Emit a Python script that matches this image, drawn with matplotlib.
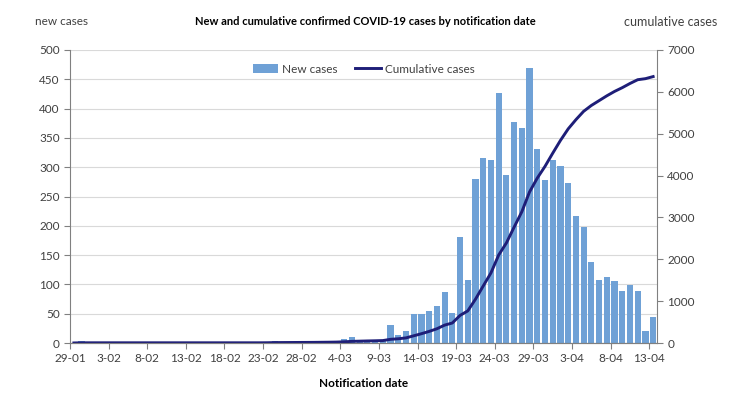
import numpy as np
import matplotlib
matplotlib.use("Agg")
import matplotlib.pyplot as plt

plt.rcParams['font.family'] = ['Lato', 'DejaVu Sans']

# day 0 = 29-01, day 75 = 13-04
tick_labels = ["29-01", "3-02", "8-02", "13-02", "18-02", "23-02", "28-02", "4-03",
               "9-03", "14-03", "19-03", "24-03", "29-03", "3-04", "8-04", "13-04"]

new_cases = [0, 4, 0, 0, 0, 0, 0, 0, 0, 0,
             0, 0, 0, 0, 0, 0, 0, 0, 0, 0,
             0, 0, 0, 0, 0, 1, 4, 1, 1, 1,
             1, 1, 2, 2, 3, 7, 10, 5, 5, 4,
             5, 30, 13, 21, 50, 50, 55, 63, 87, 51,
             181, 108, 280, 315, 312, 427, 287, 377, 367, 470,
             331, 279, 312, 302, 273, 217, 198, 138, 108, 112,
             105, 89, 99, 88, 20, 45]

cumulative = [1, 5, 5, 5, 5, 5, 5, 5, 5, 5,
              5, 5, 5, 5, 5, 5, 5, 5, 5, 5,
              5, 5, 5, 5, 5, 6, 10, 11, 12, 13,
              14, 15, 17, 19, 22, 29, 39, 44, 49, 53,
              58, 88, 101, 122, 172, 222, 277, 340, 427, 478,
              659, 767, 1047, 1362, 1674, 2101, 2390, 2768, 3136, 3610,
              3940, 4220, 4535, 4840, 5115, 5335, 5535, 5675, 5790, 5905,
              6010, 6100, 6200, 6290, 6315, 6365]

bar_color = "#6FA1D6"
line_color = "#1E1E78"
txt = "#404040"

fig = plt.figure(figsize=(7.5, 3.95), dpi=100)
ax = fig.add_axes([70/750, 1 - 343/395, 587/750, 293/395])
ax2 = ax.twinx()

days = np.arange(len(new_cases))
ax.bar(days + 0.5, new_cases, width=0.8, color=bar_color, label="New cases", zorder=2)
ax2.plot(days + 0.5, cumulative, color=line_color, lw=2.1, label="Cumulative cases")

ax.set_xlim(0, len(new_cases))
ax.set_ylim(0, 500)
ax2.set_ylim(0, 7000)
ax.set_xticks(np.arange(0, len(new_cases), 5))
ax.set_xticklabels(tick_labels)
ax.set_yticks(np.arange(0, 501, 50))
ax2.set_yticks(np.arange(0, 7001, 1000))

ax.yaxis.grid(True, color="#D9D9D9", lw=0.8, zorder=0)
ax.set_axisbelow(True)

for a in (ax, ax2):
    a.spines['top'].set_visible(False)
    for s in ('left', 'right', 'bottom'):
        a.spines[s].set_color("#808080")
    a.tick_params(colors="#808080", labelcolor=txt, labelsize=8.5, length=4)
ax.spines['right'].set_visible(False)
ax2.spines['left'].set_visible(False)

ax.set_xlabel("Notification date", fontsize=8.5, fontweight="bold", color="black", labelpad=10)
fig.text(0.487, 0.945, "New and cumulative confirmed COVID-19 cases by notification date",
         ha="center", va="center", fontsize=8, fontweight="bold", color="black")
fig.text(0.047, 0.945, "new cases", ha="left", va="center", fontsize=8.5, color=txt)
fig.text(0.957, 0.945, "cumulative cases", ha="right", va="center", fontsize=9, color=txt)

h1, l1 = ax.get_legend_handles_labels()
h2, l2 = ax2.get_legend_handles_labels()
ax2.legend(h1 + h2, l1 + l2, loc="upper center", bbox_to_anchor=(0.5, 0.99), ncol=2,
           frameon=False, fontsize=8.5, handlelength=2.2, columnspacing=1.5,
           handletextpad=0.3, labelcolor=txt)

fig.savefig("out.png", dpi=100, facecolor="white")
